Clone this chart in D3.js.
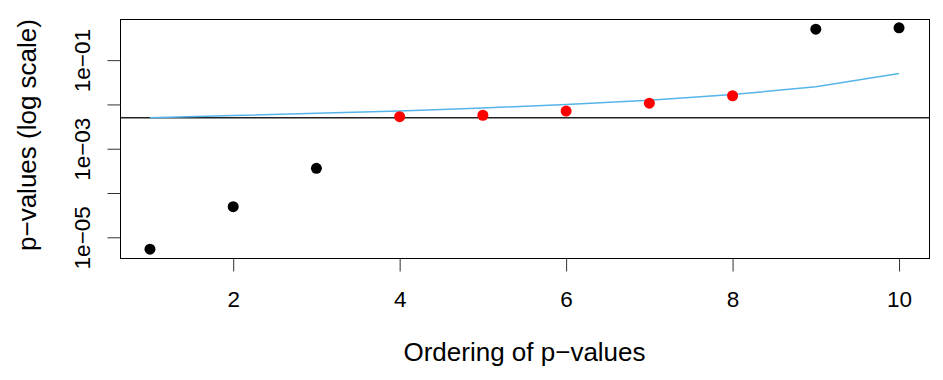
<!DOCTYPE html>
<html>
<head>
<meta charset="utf-8">
<script src="https://cdn.jsdelivr.net/npm/d3@7"></script>
<style>
  body { margin: 0; background: #fff; }
  svg { font-family: "Liberation Sans", Arial, sans-serif; }
</style>
</head>
<body>
<div id="chart"></div>
<script>
// ordered p-values
const rank = [1, 2, 3, 4, 5, 6, 7, 8, 9, 10];
const pvals = [5.4e-6, 4.9e-5, 3.6e-4, 5.3e-3, 5.7e-3, 7.1e-3, 0.0107, 0.0157, 0.50, 0.536];
// Holm threshold line
const holmLine = [0.005, 0.0056, 0.0063, 0.0071, 0.0083, 0.01, 0.0125, 0.0167, 0.025, 0.05];
const bonferroni = 0.005;
const xTicks = [2, 4, 6, 8, 10];
const yTicks = [1e-1, 1e-2, 1e-3, 1e-4, 1e-5];
const yTickLabels = ["1e\u221201", "", "1e\u221203", "", "1e\u221205"];

const W = 943, H = 380;
const margin = {top: 19, right: 14, bottom: 122, left: 120};
const chtW = W - margin.left - margin.right;
const chtH = H - margin.top - margin.bottom;

const svg = d3.select("#chart").append("svg").attr("width", W).attr("height", H);
const g = svg.append("g").attr("transform", "translate(" + margin.left + "," + margin.top + ")");

// R style 4% padding on both axes
const xr = d3.extent(rank), xpad = (xr[1] - xr[0]) * 0.04;
const x = d3.scaleLinear().domain([xr[0] - xpad, xr[1] + xpad]).range([0, chtW]);
const ly = d3.extent(pvals, d => Math.log10(d)), ypad = (ly[1] - ly[0]) * 0.04;
const y = d3.scaleLog().domain([Math.pow(10, ly[0] - ypad), Math.pow(10, ly[1] + ypad)]).range([chtH, 0]);

// bonferroni cut
g.append("line")
  .attr("x1", 0).attr("x2", chtW)
  .attr("y1", y(bonferroni)).attr("y2", y(bonferroni))
  .attr("stroke", "#222").attr("stroke-width", 1.3);

// holm line
const line = d3.line().x((d, i) => x(rank[i])).y(d => y(d));
g.append("path")
  .datum(holmLine)
  .attr("fill", "none")
  .attr("stroke", "#56B4E9")
  .attr("stroke-width", 1.5)
  .attr("d", line);

g.selectAll("circle.pt")
  .data(pvals)
  .enter().append("circle")
  .attr("class", "pt")
  .attr("cx", (d, i) => x(rank[i]))
  .attr("cy", d => y(d))
  .attr("r", 5.5)
  .attr("fill", (d, i) => (d > bonferroni && d <= holmLine[i]) ? "#FF0000" : "#000");

// box
g.append("rect")
  .attr("x", 0.5).attr("y", 0.5)
  .attr("width", chtW).attr("height", chtH)
  .attr("fill", "none").attr("stroke", "#000").attr("stroke-width", 1);

const xAxis = g.append("g")
  .attr("transform", "translate(0," + (chtH + 0.5) + ")")
  .call(d3.axisBottom(x).tickValues(xTicks).tickSize(13).tickFormat(d3.format("d")));
xAxis.select(".domain").remove();
xAxis.selectAll("line").attr("stroke", "#333");
xAxis.selectAll("text")
  .attr("y", 48.5).attr("dy", 0)
  .attr("fill", "#000")
  .style("font-size", "22.5px");

const yAxis = g.append("g")
  .attr("transform", "translate(0.5,0)")
  .call(d3.axisLeft(y).tickValues(yTicks).tickSize(13).tickFormat((d, i) => yTickLabels[i]));
yAxis.select(".domain").remove();
yAxis.selectAll("line").attr("stroke", "#333");
yAxis.selectAll("text")
  .attr("transform", "rotate(-90)")
  .attr("x", 0).attr("y", -31).attr("dy", 0)
  .attr("text-anchor", "middle")
  .attr("fill", "#000")
  .style("font-size", "22.5px");

svg.append("text")
  .attr("x", margin.left + chtW / 2).attr("y", 360.5)
  .attr("text-anchor", "middle")
  .style("font-size", "26px")
  .text("Ordering of p\u2212values");

svg.append("text")
  .attr("transform", "translate(36,135) rotate(-90)")
  .attr("text-anchor", "middle")
  .style("font-size", "26px")
  .text("p\u2212values (log scale)");
</script>
</body>
</html>
